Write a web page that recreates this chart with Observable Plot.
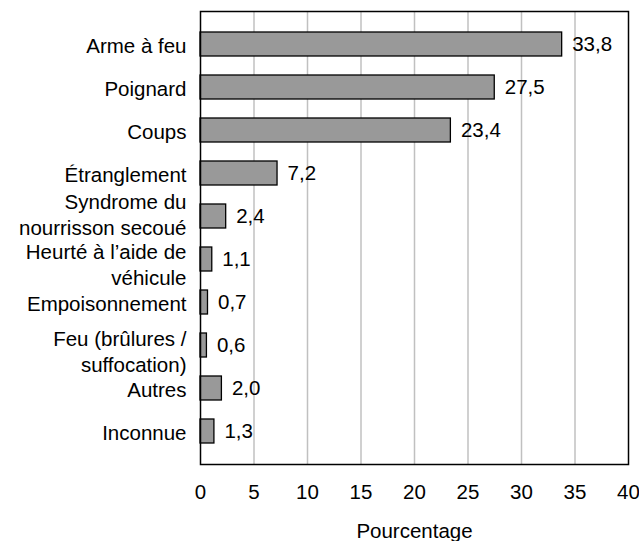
<!DOCTYPE html>
<html><head><meta charset="utf-8">
<script src="https://cdn.jsdelivr.net/npm/d3@7"></script>
<script src="https://cdn.jsdelivr.net/npm/@observablehq/plot@0.6"></script>
<style>body{margin:0;background:#fff;} svg{display:block;}</style>
</head><body><div id="chart"></div>
<script>
const categories = ["Arme à feu","Poignard","Coups","Étranglement","Syndrome du\nnourrisson secoué","Heurté à l’aide de\nvéhicule","Empoisonnement","Feu (brûlures /\nsuffocation)","Autres","Inconnue"];
const values = [33.8,27.5,23.4,7.2,2.4,1.1,0.7,0.6,2.0,1.3];
const xTicks = [0,5,10,15,20,25,30,35,40];
const gridTicks = [5,10,15,20,25,30,35];
const xLabel = "Pourcentage";

const data = categories.map((c,i)=>({cat:c, value:values[i]}));
const fmt = v => v.toFixed(1).replace(".", ",");

// category label mark; wrapped labels are nudged as in the original layout
const catLabel = (filter, dy) => Plot.text(categories, {
  filter, y: d => d, text: d => d, frameAnchor: "left", textAnchor: "end",
  dx: -14, dy, lineHeight: 1.27, fontSize: 20.5, fill: "#000"
});

const chart = Plot.plot({
  width: 639, height: 541,
  marginLeft: 200, marginRight: 11, marginTop: 11, marginBottom: 77,
  style: {fontFamily: "'Liberation Sans', Arial, sans-serif", fontSize: "20.5px", color: "#000", background: "#fff"},
  x: {domain: [0,40]},
  y: {domain: categories, padding: 0.44, axis: null},
  marks: [
    Plot.gridX(gridTicks, {stroke: "#c0c0c0", strokeOpacity: 1, strokeWidth: 1.5}),
    Plot.barX(data, {x: "value", y: "cat", fill: "#999999", stroke: "#000", strokeWidth: 1.3}),
    Plot.text(data, {x: "value", y: "cat", text: d => fmt(d.value), textAnchor: "start", dx: 10, fontSize: 20.5, fill: "#000"}),
    catLabel(d => !d.includes("\n"), 0),
    catLabel(d => d === categories[4], -3),
    catLabel(d => d === categories[5], 4.5),
    catLabel(d => d === categories[7], 5),
    Plot.frame({stroke: "#000", strokeWidth: 1.5}),
    Plot.axisX({ticks: xTicks, tickSize: 0, tickPadding: 20, fontSize: 20.5, tickFormat: d => String(d),
      label: xLabel, labelAnchor: "center", labelArrow: false, labelOffset: 73})
  ]
});
document.getElementById("chart").appendChild(chart);
</script></body></html>
